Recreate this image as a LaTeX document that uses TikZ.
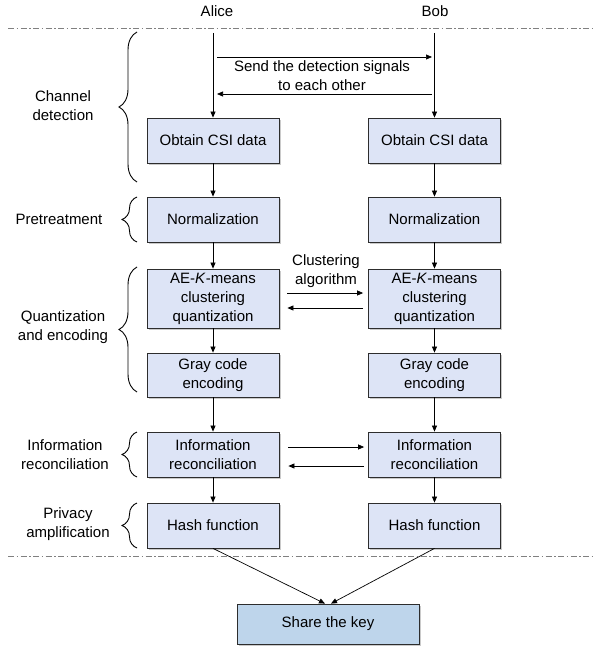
\documentclass[tikz,border=0pt]{standalone}
\usepackage{fontspec}
\setmainfont{Liberation Sans}
\usetikzlibrary{arrows.meta,shadows,decorations.pathreplacing,calc}
\definecolor{boxfill}{RGB}{221,228,246}
\definecolor{keyfill}{RGB}{190,213,235}
\definecolor{boxline}{RGB}{45,45,45}
\begin{document}
\begin{tikzpicture}[x=1pt,y=-1pt,
  every node/.style={font=\fontsize{15}{19}\selectfont, align=center, inner sep=0pt},
  procbox/.style={draw=boxline, line width=0.8pt, fill=boxfill, minimum width=132pt,
     drop shadow={shadow xshift=1.5pt, shadow yshift=-2pt, fill=gray!70, opacity=0.6}},
  keybox/.style={procbox, fill=keyfill, minimum width=182pt, minimum height=40pt},
  arr/.style={-{Triangle[length=6pt,width=5pt]}, line width=0.7pt},
  sepline/.style={gray, line width=0.9pt, dash pattern=on 6pt off 2.5pt on 1.5pt off 2.5pt},
  stagebrace/.style={decorate, decoration={brace, amplitude=#1}, line width=0.9pt},
  stagebrace/.default=14pt]
\useasboundingbox (0,0) rectangle (593,650);

% headers
\node (alice) at (217,11) {Alice};
\node (bob) at (435,11) {Bob};
\coordinate (s1l) at (8,28); \coordinate (s1r) at (593,28);
\coordinate (s2l) at (8,556); \coordinate (s2r) at (593,556);
\draw[sepline] (s1l) -- (s1r);
\draw[sepline] (s2l) -- (s2r);

% Alice column
\node[procbox, minimum height=45pt] (a1) at (213,140.5) {Obtain CSI data};
\node[procbox, minimum height=45pt] (a2) at (213,219.5) {Normalization};
\node[procbox, minimum height=59pt] (a3) at (213,298.5) {AE-\textit{K}-means\\clustering\\quantization};
\node[procbox, minimum height=44pt] (a4) at (213,375) {Gray code\\encoding};
\node[procbox, minimum height=45pt] (a5) at (213,454.5) {Information\\reconciliation};
\node[procbox, minimum height=45pt] (a6) at (213,525.5) {Hash function};

% Bob column
\node[procbox, minimum height=45pt] (b1) at (434.5,140.5) {Obtain CSI data};
\node[procbox, minimum height=45pt] (b2) at (434.5,219.5) {Normalization};
\node[procbox, minimum height=59pt] (b3) at (434.5,298.5) {AE-\textit{K}-means\\clustering\\quantization};
\node[procbox, minimum height=44pt] (b4) at (434.5,375) {Gray code\\encoding};
\node[procbox, minimum height=45pt] (b5) at (434.5,454.5) {Information\\reconciliation};
\node[procbox, minimum height=45pt] (b6) at (434.5,525.5) {Hash function};

\node[keybox] (key) at (328,624) {Share the key};

% top lines
\coordinate (atop) at (213,33);
\coordinate (btop) at (434.5,33);
\draw[arr] (atop) -- (a1.north);
\draw[arr] (btop) -- (b1.north);
\coordinate (sig1a) at (217,57); \coordinate (sig1b) at (432,57);
\coordinate (sig2a) at (217,94); \coordinate (sig2b) at (432,94);
\draw[arr] (sig1a) -- (sig1b);
\draw[arr] (sig2b) -- (sig2a);
\node (sigtxt) at (322,76) {Send the detection signals\\to each other};

% vertical flows
\foreach \u/\v in {a1/a2,a2/a3,a3/a4,a4/a5,a5/a6,b1/b2,b2/b3,b3/b4,b4/b5,b5/b6}
  \draw[arr] (\u.south) -- (\v.north);

% cross arrows
\draw[arr] ([xshift=8pt,yshift=5.5pt]a3.east) -- ([xshift=-5pt,yshift=5.5pt]b3.west);
\draw[arr] ([xshift=-5pt,yshift=-9.5pt]b3.west) -- ([xshift=8pt,yshift=-9.5pt]a3.east);
\node (clus) at (326,271) {Clustering\\algorithm};
\draw[arr] ([xshift=9pt,yshift=7.5pt]a5.east) -- ([xshift=-4pt,yshift=7.5pt]b5.west);
\draw[arr] ([xshift=-4pt,yshift=-11.5pt]b5.west) -- ([xshift=9pt,yshift=-11.5pt]a5.east);

% to key
\draw[arr] (a6.south) -- ([xshift=-3pt]key.north);
\draw[arr] (b6.south) -- ([xshift=3pt]key.north);

% braces
\coordinate (br1a) at (137,182); \coordinate (br1b) at (137,32);
\coordinate (br2a) at (137,242); \coordinate (br2b) at (137,197);
\coordinate (br3a) at (137,392); \coordinate (br3b) at (137,267);
\coordinate (br4a) at (137,477); \coordinate (br4b) at (137,432);
\coordinate (br5a) at (137,548); \coordinate (br5b) at (137,503);
\draw[stagebrace=18pt] (br1a) -- (br1b);
\draw[stagebrace=15pt] (br2a) -- (br2b);
\draw[stagebrace=18pt] (br3a) -- (br3b);
\draw[stagebrace=15pt] (br4a) -- (br4b);
\draw[stagebrace=15pt] (br5a) -- (br5b);

% stage labels
\node (l1) at (63,106) {Channel\\detection};
\node (l2) at (59,219) {Pretreatment};
\node (l3) at (63,327) {Quantization\\and encoding};
\node (l4) at (65,455) {Information\\reconciliation};
\node (l5) at (68,524) {Privacy\\amplification};
\end{tikzpicture}
\end{document}
